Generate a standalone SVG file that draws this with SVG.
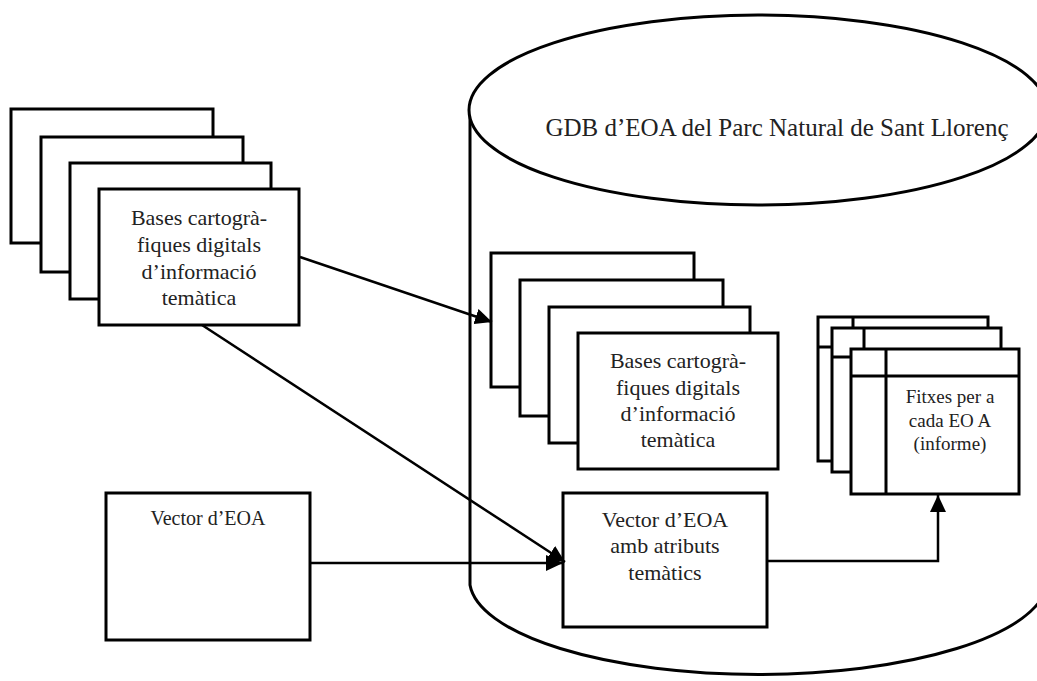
<svg xmlns="http://www.w3.org/2000/svg" width="1037" height="681" viewBox="0 0 1037 681">
  <style>
    .box { fill: #fff; stroke: #000; stroke-width: 3; }
    .ln { fill: none; stroke: #000; stroke-width: 3; }
    .edge { fill: none; stroke: #000; stroke-width: 2.5; }
    text { font-family: "Liberation Serif", "Times New Roman", serif; fill: #222; text-anchor: middle; }
    .t { font-size: 22px; }
    .v { font-size: 20px; }
    .s { font-size: 19px; }
    .title { font-size: 25px; }
  </style>
  <defs>
    <marker id="arrow" markerUnits="userSpaceOnUse" markerWidth="18" markerHeight="16" refX="17" refY="8" orient="auto">
      <path d="M0,0 L17,8 L0,16 Z" fill="#000"/>
    </marker>
  </defs>

  <rect width="1037" height="681" fill="#fff"/>

  <!-- database cylinder -->
  <g id="gdb">
    <path class="ln" d="M470,110 L470,585 A289,95 0 0 0 1047,585"/>
    <ellipse class="box" cx="758" cy="110" rx="289" ry="95"/>
    <text class="title" x="777" y="136">GDB  d’EOA del Parc Natural de Sant Llorenç</text>
  </g>

  <!-- source thematic maps -->
  <g id="bases-origen">
    <rect class="box" x="11" y="109" width="202" height="134"/>
    <rect class="box" x="41" y="137" width="202" height="135"/>
    <rect class="box" x="70" y="163" width="201" height="136"/>
    <rect class="box" x="99" y="189" width="200" height="136"/>
    <text class="t" x="199" y="225">Bases cartogrà-</text>
    <text class="t" x="199" y="252">fiques digitals</text>
    <text class="t" x="199" y="279">d’informació</text>
    <text class="t" x="199" y="305">temàtica</text>
  </g>

  <!-- thematic maps stored in the GDB -->
  <g id="bases-gdb">
    <rect class="box" x="491" y="253" width="203" height="134"/>
    <rect class="box" x="520" y="280" width="203" height="136"/>
    <rect class="box" x="549" y="307" width="201" height="136"/>
    <rect class="box" x="578" y="333" width="200" height="136"/>
    <text class="t" x="678" y="368">Bases cartogrà-</text>
    <text class="t" x="678" y="395">fiques digitals</text>
    <text class="t" x="678" y="421">d’informació</text>
    <text class="t" x="678" y="447">temàtica</text>
  </g>

  <!-- report sheets -->
  <g id="fitxes">
    <rect class="box" x="818" y="317" width="170" height="144"/>
    <path class="ln" d="M853,317 V461 M818,347 H988"/>
    <rect class="box" x="832" y="328" width="169" height="144"/>
    <path class="ln" d="M864,328 V472 M832,357 H1001"/>
    <rect class="box" x="851" y="349" width="168" height="145"/>
    <path class="ln" d="M886,349 V494 M851,376 H1019"/>
    <text class="s" x="950" y="403">Fitxes per a</text>
    <text class="s" x="950" y="427">cada EO A</text>
    <text class="s" x="950" y="450">(informe)</text>
  </g>

  <!-- EOA vector -->
  <g id="vector-eoa">
    <rect class="box" x="106" y="493" width="204" height="147"/>
    <text class="v" x="208" y="525">Vector d’EOA</text>
  </g>

  <!-- EOA vector with thematic attributes -->
  <g id="vector-atributs">
    <rect class="box" x="563" y="493" width="204" height="134"/>
    <text class="t" x="665" y="527">Vector d’EOA</text>
    <text class="t" x="665" y="553">amb atributs</text>
    <text class="t" x="665" y="580">temàtics</text>
  </g>

  <!-- connectors -->
  <g id="connectors">
    <path class="edge" d="M300,257 L492,322" marker-end="url(#arrow)"/>
    <path class="edge" d="M202,325 L565,562" marker-end="url(#arrow)"/>
    <path class="edge" d="M310,563 L563,563" marker-end="url(#arrow)"/>
    <path class="edge" d="M767,561 H938 V495" marker-end="url(#arrow)"/>
  </g>
</svg>
